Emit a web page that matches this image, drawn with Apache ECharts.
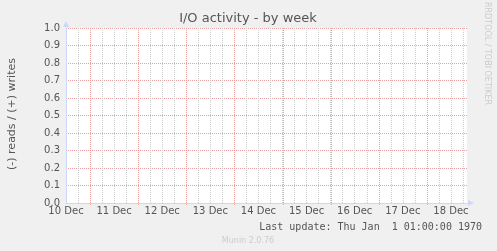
<!DOCTYPE html>
<html><head><meta charset="utf-8">
<script src="https://cdn.jsdelivr.net/npm/echarts@6/dist/echarts.min.js"></script>
<style>html,body{margin:0;padding:0;background:#f0f0f0}#c{width:497px;height:251px}</style>
</head><body><div id="c"></div><script>
const titleText = 'I/O activity - by week';
const yAxisTitle = '(-) reads / (+) writes';
const dayLabels = ['10 Dec','11 Dec','12 Dec','13 Dec','14 Dec','15 Dec','16 Dec','17 Dec','18 Dec'];
// hours since 10 Dec 00:00
const xStartHour = 12;
const xEndHour = 212;
const dayBoundaryHours = [24, 48, 72, 96, 120, 144, 168, 192];
const yMin = 0, yMax = 1, yStep = 0.1;
const readsValues = [];
const writesValues = [];
const lastUpdateText = 'Last update: Thu Jan  1 01:00:00 1970';
const footerText = 'Munin 2.0.76';
const watermarkText = 'RRDTOOL / TOBI OETIKER';

const axisColor = '#CFD6F8';
const majorGrid = '#e8a0a0';
const minorGrid = '#cccccc';
const fontColor = '#555';
const FONT = 'DejaVu Sans';

function txt(o){
  return {type:'text', x:o.x, y:o.y, rotation:o.rot||0, silent:true,
    style:{text:o.text, fill:o.fill, font:o.font, textAlign:o.align||'center', align:o.align||'center',
      textVerticalAlign:'middle', verticalAlign:'middle'}};
}

const chart = echarts.init(document.getElementById('c'), null, {renderer:'canvas'});
chart.setOption({
  animation:false,
  backgroundColor:'#f0f0f0',
  grid:{left:66, top:28, width:401, height:175, show:true, backgroundColor:'#ffffff', borderWidth:0},
  xAxis:[
    {type:'value', min:xStartHour, max:xEndHour, interval:24, position:'bottom',
     axisLine:{show:true, lineStyle:{color:axisColor, width:1}, symbol:['none','triangle'], symbolSize:[6,6], symbolOffset:[0,4]},
     axisTick:{show:false},
     axisLabel:{show:true, margin:3, color:fontColor, fontSize:10, fontFamily:FONT, showMaxLabel:false,
       formatter:function(v){ const i=(v-xStartHour)/24; return Number.isInteger(i)&&dayLabels[i]?dayLabels[i]:''; }},
     splitLine:{show:false}},
    {type:'value', min:xStartHour, max:xEndHour, interval:6, position:'bottom',
     axisLine:{show:false}, axisTick:{show:false}, axisLabel:{show:false},
     splitLine:{show:true, showMinLine:false, showMaxLine:false, lineStyle:{color:minorGrid, type:'dotted', width:1}}}
  ],
  yAxis:{type:'value', min:yMin, max:yMax, interval:yStep,
    axisLine:{show:true, lineStyle:{color:axisColor, width:1}, symbol:['none','triangle'], symbolSize:[6,6], symbolOffset:[0,4]},
    axisTick:{show:false},
    axisLabel:{margin:6, color:fontColor, fontSize:10, fontFamily:FONT, formatter:function(v){return v.toFixed(1);}},
    splitLine:{show:true, showMinLine:false, lineStyle:{color:majorGrid, type:'dotted', width:1}}},
  series:[
    {name:'day grid', type:'custom', xAxisIndex:0, silent:true, z:1,
     data:dayBoundaryHours.map(h=>[h]),
     renderItem:function(params, api){
       const top = api.coord([api.value(0), yMax]);
       const bot = api.coord([api.value(0), yMin]);
       const x = Math.round(top[0]) + 0.5;
       return {type:'line', shape:{x1:x, y1:Math.round(top[1]), x2:x, y2:Math.round(bot[1])+2},
         style:{stroke:majorGrid, lineWidth:1, lineDash:[1,1]}};
     }},
    {name:'reads', type:'line', xAxisIndex:0, data:readsValues, showSymbol:false},
    {name:'writes', type:'line', xAxisIndex:0, data:writesValues, showSymbol:false}
  ],
  graphic:[
    txt({text:titleText, x:248, y:19, fill:fontColor, font:'13px '+FONT}),
    txt({text:yAxisTitle, x:12, y:114, rot:Math.PI/2, fill:fontColor, font:'11px '+FONT}),
    txt({text:watermarkText, x:487, y:53.5, rot:-Math.PI/2, fill:'#cccccc', font:'8px '+FONT}),
    txt({text:lastUpdateText, x:482, y:227, align:'right', fill:fontColor, font:'10px DejaVu Sans Mono'}),
    txt({text:footerText, x:248, y:241, fill:'#cccccc', font:'8px '+FONT})
  ]
});
</script></body></html>
